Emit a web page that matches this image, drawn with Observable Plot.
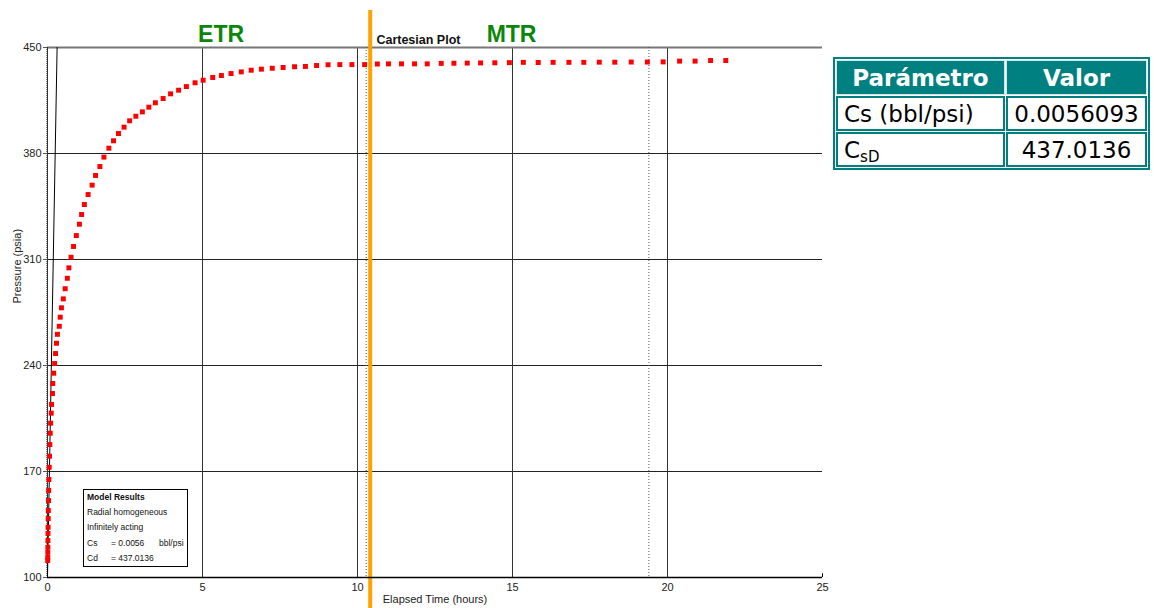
<!DOCTYPE html>
<html>
<head>
<meta charset="utf-8">
<script src="https://cdn.jsdelivr.net/npm/d3@7"></script>
<script src="https://cdn.jsdelivr.net/npm/@observablehq/plot@0.6"></script>
<style>
  body { margin: 0; background: #fff; font-family: "Liberation Sans", Arial, sans-serif; }
  #wrap { position: relative; width: 1154px; height: 608px; overflow: hidden; }
  #chart { position: absolute; left: 0; top: 0; }
  #model { position: absolute; left: 83px; top: 489px; width: 100px; height: 76px; border: 1px solid #000;
           background: #fff; font-size: 8.5px; line-height: 15.2px; padding: 0 0 0 3px; color: #111; white-space: nowrap; }
  #model .b { font-weight: bold; }
  #model span { display: inline-block; }
  #params { position: absolute; left: 833px; top: 57px; width: 315px; border-collapse: separate; border-spacing: 1px;
            border: 2px solid #008080; background: #fff; table-layout: fixed;
            font-family: "DejaVu Sans", Verdana, sans-serif; font-size: 23px; }
  #params td, #params th { border: 2px solid #008080; padding: 0 6px; height: 31px; white-space: nowrap; }
  #params th { background: #008080; color: #fff; font-weight: bold; text-align: center; border-color: #008080; outline: 1px solid #cfe8e8; outline-offset: -1px; }
  #params td.v { text-align: center; }
  #params sub { font-size: 15px; vertical-align: -4px; line-height: 0; }
</style>
</head>
<body>
<div id="wrap">
  <div id="chart"></div>
  <div id="model"></div>
  <table id="params"></table>
</div>
<script>
// ---- data ----
const time = [0.007, 0.008, 0.010, 0.012, 0.014, 0.016, 0.019, 0.023, 0.027, 0.032, 0.038, 0.045, 0.055, 0.065, 0.075, 0.087,
  0.10, 0.12, 0.13, 0.16, 0.17, 0.20, 0.23, 0.26, 0.29, 0.32, 0.38, 0.41, 0.45, 0.51, 0.57, 0.64, 0.69, 0.76, 0.84, 0.93,
  1.03, 1.10, 1.19, 1.31, 1.44, 1.55, 1.69, 1.82, 1.98, 2.13, 2.29, 2.47, 2.65, 2.85, 3.06, 3.27, 3.48, 3.73, 3.97, 4.23,
  4.48, 4.76, 5.02, 5.33, 5.61, 5.92, 6.25, 6.57, 6.90, 7.25, 7.60, 7.97, 8.32, 8.68, 9.05, 9.43, 9.82, 10.23, 10.64,
  11.00, 11.42, 11.84, 12.25, 12.70, 13.11, 13.54, 13.97, 14.43, 14.90, 15.35, 15.83, 16.31, 16.82, 17.30, 17.80, 18.30,
  18.83, 19.35, 19.86, 20.39, 20.89, 21.39, 21.88];
const pressure = [111.2, 113.4, 116.7, 120.0, 124.4, 129.1, 133.2, 138.9, 144.2, 150.8, 157.5, 164.7, 172.8, 180.1, 187.8, 195.3,
  201.9, 208.5, 214.3, 221.5, 228.1, 234.9, 241.3, 247.9, 254.7, 260.6, 265.9, 271.9, 278.1, 284.0, 290.7, 297.6, 304.5, 311.5, 318.6, 325.8,
  333.3, 339.7, 346.3, 352.9, 359.1, 365.5, 371.4, 377.6, 383.5, 388.4, 393.2, 397.4, 401.6, 404.6, 407.5, 410.6, 413.5, 416.3, 419.4, 421.8,
  424.2, 426.7, 428.4, 430.2, 431.5, 432.8, 433.9, 435.0, 435.7, 436.3, 436.8, 437.3, 437.5, 438.1, 438.6, 438.7, 438.7, 438.7, 439.1,
  439.2, 439.2, 439.2, 439.2, 439.5, 439.6, 439.7, 439.8, 439.9, 440.0, 440.2, 440.1, 440.2, 440.2, 440.2, 440.3, 440.3,
  440.4, 440.4, 440.5, 441.0, 441.0, 441.4, 441.4];

const xTicks = [0, 5, 10, 15, 20, 25];
const yTicks = [100, 170, 240, 310, 380, 450];
const slopeTime = [0, 0.31];          // unit-slope (wellbore storage) line
const slopePressure = [100, 450];
const dottedTimes = [10.28, 19.4];    // thin dotted markers
const boundaryTime = [10.41];         // orange ETR / MTR boundary
const boundarySpan = [474.5, 79.5];
const regionNames = ["ETR", "MTR"];
const regionTimes = [5.6, 14.97];
const plotTitle = "Cartesian Plot";
const plotTitleTime = [10.61];

const modelLines = ["Model Results", "Radial homogeneous", "Infinitely acting"];
const modelParams = [["Cs", "= 0.0056", "bbl/psi"], ["Cd", "= 437.0136", ""]];

const tableHeader = ["Parámetro", "Valor"];
const tableParams = [["Cs (bbl/psi)", "0.0056093"], ["C<sub>sD</sub>", "437.0136"]];

// ---- build ----
const pts = time.map((t, i) => ({t, p: pressure[i]}));
const slope = slopeTime.map((t, i) => ({t, p: slopePressure[i]}));
const regions = regionNames.map((name, i) => ({name, t: regionTimes[i]}));

const chart = Plot.plot({
  width: 830,
  height: 608,
  marginLeft: 47,
  marginRight: 8,
  marginTop: 47,
  marginBottom: 31,
  style: {fontFamily: "'Liberation Sans', Arial, sans-serif", fontSize: "11px", background: "transparent", overflow: "visible"},
  x: {domain: [0, 25]},
  y: {domain: [100, 450]},
  marks: [
    Plot.ruleY(yTicks.filter(v => v > 100 && v < 450), {stroke: "#222", strokeWidth: 1}),
    Plot.ruleX(xTicks.filter(v => v > 0 && v < 25), {stroke: "#333", strokeWidth: 1}),
    Plot.ruleY([450], {x1: 0, x2: 25, stroke: "#777", strokeWidth: 2}),
    Plot.ruleX(dottedTimes, {stroke: "#555", strokeWidth: 1, strokeDasharray: "1,2"}),
    Plot.ruleX([0], {stroke: "#888", strokeWidth: 1, strokeDasharray: "1,1", dx: -1}),
    Plot.ruleX([0], {stroke: "#333", strokeWidth: 1}),
    Plot.line(slope, {x: "t", y: "p", stroke: "#000", strokeWidth: 1}),
    Plot.dot(pts, {x: "t", y: "p", symbol: "square", r: 2.8, fill: "#ff0000", stroke: "none"}),
    Plot.ruleX(boundaryTime, {y1: boundarySpan[0], y2: boundarySpan[1], stroke: "#ffa200", strokeWidth: 4}),
    Plot.ruleY([100], {x1: 0, x2: 25, stroke: "#000", strokeWidth: 1.5}),
    Plot.ruleX([25], {y1: 100, y2: 102.5, stroke: "#000"}),
    Plot.axisX(xTicks, {anchor: "bottom", tickSize: 0, tickPadding: 6, label: "Elapsed Time (hours)",
      labelAnchor: "center", labelArrow: "none", labelOffset: 25, fill: "#222"}),
    Plot.axisY(yTicks, {anchor: "left", tickSize: 4, tickPadding: 2, stroke: "#555", label: null, fill: "#222"}),
    Plot.text(["Pressure (psia)"], {frameAnchor: "left", rotate: -90, dx: -30, dy: -9, text: d => d, fill: "#222", fontSize: 11}),
    Plot.text(regions, {x: "t", y: () => 450, text: "name", dy: -13, fill: "#0a870a", fontSize: 23, fontWeight: "bold"}),
    Plot.text(plotTitleTime, {x: d => d, y: () => 450, text: () => plotTitle, textAnchor: "start", dy: -8,
      fill: "#111", fontSize: 12.5, fontWeight: "bold"})
  ]
});
document.getElementById("chart").appendChild(chart);

// model results box
const model = document.getElementById("model");
modelLines.forEach((s, i) => {
  const d = document.createElement("div");
  d.textContent = s;
  if (i === 0) d.className = "b";
  model.appendChild(d);
});
modelParams.forEach(row => {
  const d = document.createElement("div");
  const widths = [24, 48, null];
  row.forEach((s, i) => {
    const sp = document.createElement("span");
    if (widths[i]) sp.style.width = widths[i] + "px";
    sp.textContent = s;
    d.appendChild(sp);
  });
  model.appendChild(d);
});

// parameter table
const table = document.getElementById("params");
const colgroup = document.createElement("colgroup");
[169, 141].forEach(w => { const c = document.createElement("col"); c.style.width = w + "px"; colgroup.appendChild(c); });
table.appendChild(colgroup);
const hr = document.createElement("tr");
tableHeader.forEach(h => { const th = document.createElement("th"); th.textContent = h; hr.appendChild(th); });
table.appendChild(hr);
tableParams.forEach(r => {
  const tr = document.createElement("tr");
  const a = document.createElement("td"); a.innerHTML = r[0]; tr.appendChild(a);
  const b = document.createElement("td"); b.className = "v"; b.textContent = r[1]; tr.appendChild(b);
  table.appendChild(tr);
});
</script>
</body>
</html>
